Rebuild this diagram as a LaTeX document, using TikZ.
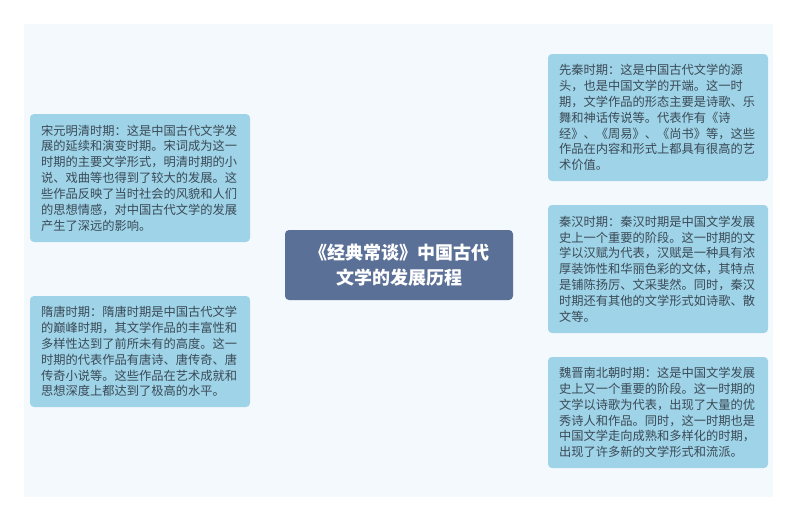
\documentclass[tikz,border=0pt]{standalone}
\usepackage{fontspec}
\newfontfamily\cjk{Noto Sans CJK SC}
\usetikzlibrary{backgrounds}
\definecolor{panelbg}{HTML}{F4F9FD}
\definecolor{boxfill}{HTML}{9FD3E7}
\definecolor{boxtext}{HTML}{3A4A56}
\definecolor{mainfill}{HTML}{5B7096}
\definecolor{linecol}{HTML}{A0A5AC}
\tikzset{
  topic/.style={fill=boxfill, rounded corners=4pt, minimum width=220pt, inner sep=0pt,
    text=boxtext, align=left, text width=198pt,
    font=\cjk\fontsize{12.25pt}{15.85pt}\selectfont},
  maintopic/.style={fill=mainfill, rounded corners=4pt, minimum width=228pt, minimum height=70pt,
    inner sep=0pt, text=white, align=center,
    font=\cjk\bfseries\fontsize{18pt}{25pt}\selectfont},
  conn/.style={draw=linecol, line width=1.2pt, rounded corners=4pt}
}
\begin{document}
\begin{tikzpicture}[x=1pt,y=-1pt]
\useasboundingbox (0,0) rectangle (800,523);
\fill[white] (0,0) rectangle (800,523);
\fill[panelbg] (24,24) rectangle (773,497);

\node[maintopic] (c) at (399,265) {《经典常谈》中国古代\\文学的发展历程};

\node[topic, minimum height=127pt] (r1) at (658,117.5) {先秦时期：这是中国古代文学的源\\头，也是中国文学的开端。这一时\\期，文学作品的形态主要是诗歌、乐\\舞和神话传说等。代表作有《诗\\经》、《周易》、《尚书》等，这些\\作品在内容和形式上都具有很高的艺\\术价值。};
\node[topic, minimum height=128pt] (r2) at (658,269) {秦汉时期：秦汉时期是中国文学发展\\史上一个重要的阶段。这一时期的文\\学以汉赋为代表，汉赋是一种具有浓\\厚装饰性和华丽色彩的文体，其特点\\是铺陈扬厉、文采斐然。同时，秦汉\\时期还有其他的文学形式如诗歌、散\\文等。};
\node[topic, minimum height=111pt] (r3) at (658,412.5) {魏晋南北朝时期：这是中国文学发展\\史上又一个重要的阶段。这一时期的\\文学以诗歌为代表，出现了大量的优\\秀诗人和作品。同时，这一时期也是\\中国文学走向成熟和多样化的时期，\\出现了许多新的文学形式和流派。};
\node[topic, minimum height=128pt] (l1) at (140,178) {宋元明清时期：这是中国古代文学发\\展的延续和演变时期。宋词成为这一\\时期的主要文学形式，明清时期的小\\说、戏曲等也得到了较大的发展。这\\些作品反映了当时社会的风貌和人们\\的思想情感，对中国古代文学的发展\\产生了深远的影响。};
\node[topic, minimum height=111pt] (l2) at (140,351.5) {隋唐时期：隋唐时期是中国古代文学\\的巅峰时期，其文学作品的丰富性和\\多样性达到了前所未有的高度。这一\\时期的代表作品有唐诗、唐传奇、唐\\传奇小说等。这些作品在艺术成就和\\思想深度上都达到了极高的水平。};

\coordinate (rs) at (424,265);
\coordinate (ls) at (348,265);
\begin{scope}[on background layer]
\fill[white] (0,0) rectangle (800,523);
\fill[panelbg] (24,24) rectangle (773,497);
\draw[conn] (rs) |- (r1.west);
\draw[conn] (rs) |- (r3.west);
\draw[conn] (rs |- r2.west) -- (r2.west);
\draw[conn] (ls) |- (l1.east);
\draw[conn] (ls) |- (l2.east);
\end{scope}
\end{tikzpicture}
\end{document}
